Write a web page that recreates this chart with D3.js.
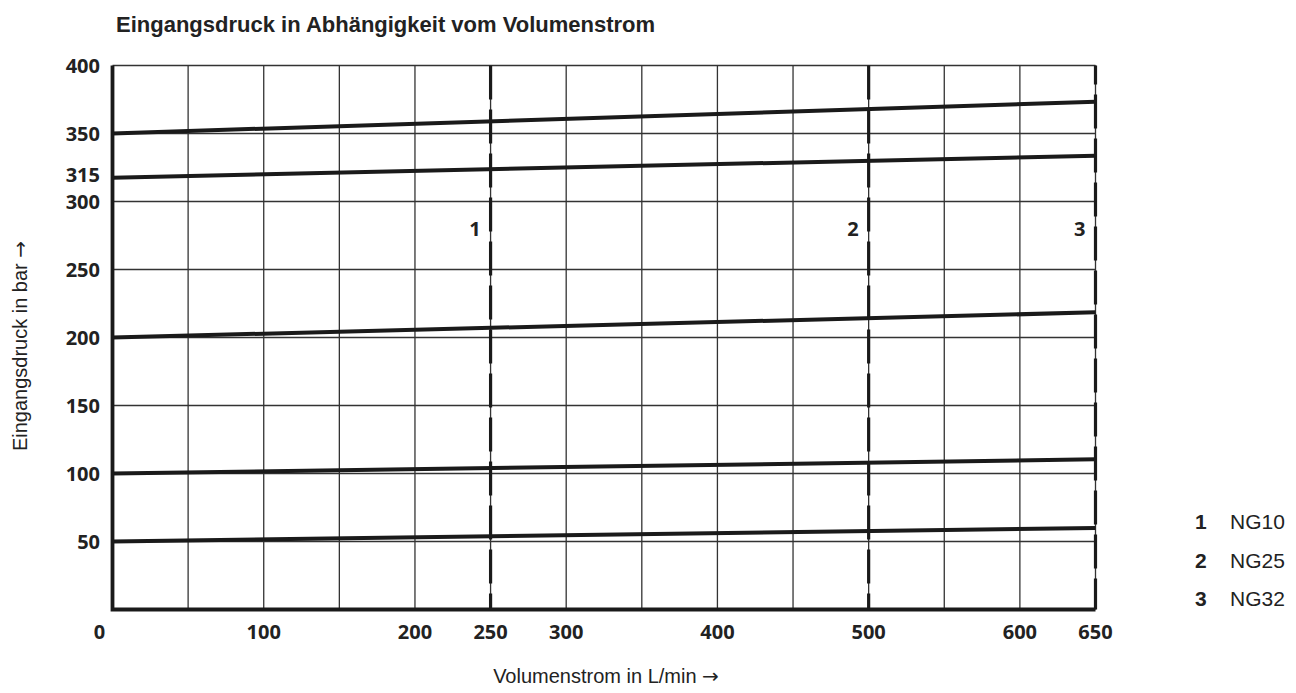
<!DOCTYPE html>
<html lang="de">
<head>
<meta charset="utf-8">
<title>Eingangsdruck in Abhängigkeit vom Volumenstrom</title>
<script src="https://cdn.jsdelivr.net/npm/d3@7"></script>
<style>
  body { margin: 0; background: #fff; }
  .grid line { stroke: #333; stroke-width: 1.3; }
  .tick-lbl { font-family: "Open Sans", sans-serif; font-weight: 700; font-size: 20px; fill: #222; }
  .title { font-family: "Liberation Sans", Arial, sans-serif; font-weight: 700; font-size: 22px; fill: #222; }
  .axis-title { font-family: "Liberation Sans", Arial, sans-serif; font-size: 20px; fill: #222; }
  .arrow { font-family: "DejaVu Sans", sans-serif; }
  .legend-num { font-family: "Liberation Sans", Arial, sans-serif; font-weight: 700; font-size: 21px; fill: #222; }
  .legend-txt { font-family: "Liberation Sans", Arial, sans-serif; font-size: 21px; fill: #222; }
</style>
</head>
<body>
<script>
// flow (L/min) at which each pressure line is read
var flow = [0, 650];
// inlet pressure (bar) at those flows
var p350 = [350, 373.4];
var p315 = [317.5, 333.7];
var p200 = [200, 218.5];
var p100 = [100, 110.4];
var p50  = [50, 60];

var xTicks = [0, 100, 200, 250, 300, 400, 500, 600, 650];
var yTicks = [50, 100, 150, 200, 250, 300, 315, 350, 400];
var yGrid  = [50, 100, 150, 200, 250, 300, 350, 400];

// nominal sizes: max flow limits
var sizeIds   = ["1", "2", "3"];
var sizeFlow  = [250, 500, 650];
var sizeNames = ["NG10", "NG25", "NG32"];

var w = 1296, h = 693;

var x = d3.scaleLinear().domain([0, 650]).range([112.5, 1095.5]);
var y = d3.scaleLinear().domain([0, 400]).range([609.5, 65.5]);

var svg = d3.select("body").append("svg")
  .attr("width", w).attr("height", h);

// grid
var grid = svg.append("g").attr("class", "grid");
grid.selectAll("line.v")
  .data(x.ticks(13).filter(function(d) { return d > 0; }))
  .enter().append("line").attr("class", "v")
  .attr("x1", function(d) { return x(d); }).attr("x2", function(d) { return x(d); })
  .attr("y1", y(400)).attr("y2", y(0));
grid.selectAll("line.h")
  .data(yGrid)
  .enter().append("line").attr("class", "h")
  .attr("x1", x(0)).attr("x2", x(650))
  .attr("y1", function(d) { return y(d); }).attr("y2", function(d) { return y(d); });

// pressure lines
var series = [p350, p315, p200, p100, p50];
var line = d3.line()
  .x(function(d, i) { return x(flow[i]); })
  .y(function(d) { return y(d); });
svg.selectAll("path.curve")
  .data(series)
  .enter().append("path").attr("class", "curve")
  .attr("d", line)
  .attr("fill", "none")
  .attr("stroke", "#1a1a1a")
  .attr("stroke-width", 4);

// dashed size limits
var offsets = [0, 0, 15];
svg.selectAll("line.limit")
  .data(sizeFlow)
  .enter().append("line").attr("class", "limit")
  .attr("x1", function(d) { return x(d); }).attr("x2", function(d) { return x(d); })
  .attr("y1", y(400)).attr("y2", y(0))
  .attr("stroke", "#1a1a1a")
  .attr("stroke-width", 3.2)
  .attr("stroke-dasharray", "34,10")
  .attr("stroke-dashoffset", function(d, i) { return offsets[i]; });

svg.selectAll("text.limit-lbl")
  .data(sizeFlow)
  .enter().append("text").attr("class", "tick-lbl")
  .attr("x", function(d) { return x(d) - 10; })
  .attr("y", y(280))
  .attr("dy", "0.35em")
  .attr("text-anchor", "end")
  .text(function(d, i) { return sizeIds[i]; });

// axes (left and bottom heavy)
svg.append("path")
  .attr("d", "M" + x(0) + "," + y(400) + "V" + y(0) + "H" + x(650))
  .attr("fill", "none")
  .attr("stroke", "#1a1a1a")
  .attr("stroke-width", 3.8);

// tick labels
svg.selectAll("text.xt")
  .data(xTicks)
  .enter().append("text").attr("class", "tick-lbl")
  .attr("x", function(d) { return x(d) + (d === 0 ? -13 : 0); })
  .attr("y", 632)
  .attr("dy", "0.35em")
  .attr("text-anchor", "middle")
  .text(function(d) { return d; });

svg.selectAll("text.yt")
  .data(yTicks)
  .enter().append("text").attr("class", "tick-lbl")
  .attr("x", 100)
  .attr("y", function(d) { return y(d) + (d === 315 ? -6 : 0); })
  .attr("dy", "0.35em")
  .attr("text-anchor", "end")
  .text(function(d) { return d; });

// titles
svg.append("text").attr("class", "title")
  .attr("x", 116).attr("y", 32)
  .text("Eingangsdruck in Abhängigkeit vom Volumenstrom");

var xt = svg.append("text").attr("class", "axis-title")
  .attr("x", 606).attr("y", 676)
  .attr("dy", "0.35em")
  .attr("text-anchor", "middle");
xt.append("tspan").text("Volumenstrom in L/min ");
xt.append("tspan").attr("class", "arrow").text("\u2192");

var yt = svg.append("text").attr("class", "axis-title")
  .attr("transform", "translate(20,346) rotate(-90)")
  .attr("dy", "0.35em")
  .attr("text-anchor", "middle");
yt.append("tspan").text("Eingangsdruck in bar ");
yt.append("tspan").attr("class", "arrow").text("\u2192");

// legend
var legendY = [522, 561, 599];
var lg = svg.selectAll("g.legend")
  .data(sizeIds)
  .enter().append("g").attr("class", "legend")
  .attr("transform", function(d, i) { return "translate(1195," + legendY[i] + ")"; });
lg.append("text").attr("class", "legend-num")
  .attr("dy", "0.35em")
  .text(function(d) { return d; });
lg.append("text").attr("class", "legend-txt")
  .attr("x", 35)
  .attr("dy", "0.35em")
  .text(function(d, i) { return sizeNames[i]; });
</script>
</body>
</html>
